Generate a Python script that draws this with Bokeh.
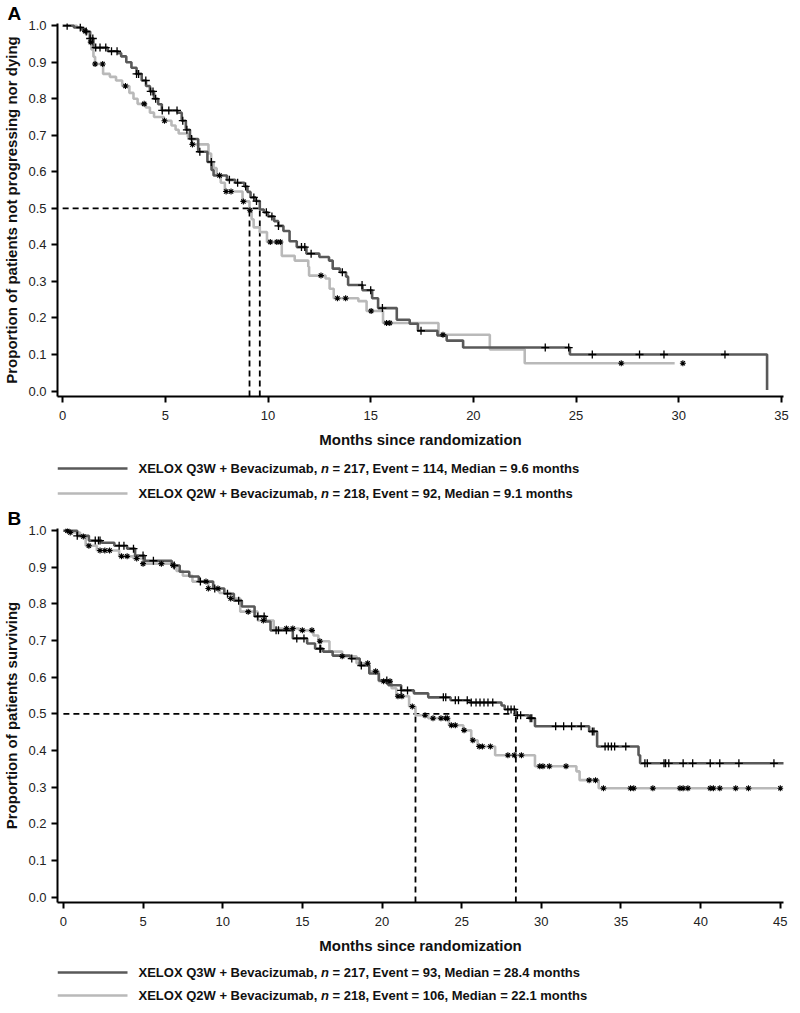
import numpy as np
from bokeh.plotting import figure
from bokeh.models import FixedTicker, NumeralTickFormatter
from bokeh.layouts import column
from bokeh.embed import file_html
from bokeh.resources import INLINE
from bokeh.core.properties import value

# ---------------- DATA ----------------
# Panel A: progression-free survival (months, proportion after step)
A_q3w_times = [0.55, 0.9, 1.1, 1.34, 1.5, 2.2, 2.7, 2.85, 3.1, 3.35, 3.6, 3.85, 4.06, 4.25, 4.45, 4.65,
               4.83, 5.6, 5.8, 6.0, 6.2, 6.6, 7.05, 7.25, 7.35, 8.0, 8.4, 8.85, 9.0, 9.15, 9.4, 9.6,
               9.8, 10.0, 10.3, 10.5, 10.75, 11.05, 11.4, 11.87, 12.5, 12.97, 13.15, 13.5, 13.8, 13.9,
               14.6, 15.07, 15.36, 16.27, 16.9, 17.3, 18.25, 18.7, 19.5, 24.7, 34.3]
A_q3w_surv = [0.995, 0.99, 0.984, 0.965, 0.94, 0.93, 0.925, 0.916, 0.90, 0.885, 0.868, 0.85, 0.835, 0.82, 0.80, 0.785,
              0.768, 0.762, 0.74, 0.715, 0.69, 0.655, 0.627, 0.605, 0.59, 0.578, 0.57, 0.56, 0.545, 0.53, 0.52, 0.497,
              0.489, 0.478, 0.465, 0.452, 0.438, 0.41, 0.394, 0.376, 0.367, 0.357, 0.335, 0.325, 0.313, 0.29,
              0.276, 0.254, 0.227, 0.195, 0.184, 0.165, 0.152, 0.138, 0.119, 0.10, 0.003]
A_q3w_end = 34.3
A_q3w_censor = [0.22, 0.86, 1.15, 1.34, 1.47, 1.61, 1.82, 2.1, 2.38, 2.65, 3.6, 3.7, 4.05, 4.29, 4.4, 4.53,
                4.85, 5.17, 5.57, 5.85, 6.05, 6.28, 6.68, 7.24, 8.12, 8.52, 8.91, 9.31, 9.44, 9.92, 10.19,
                10.51, 11.63, 11.79, 12.1, 13.62, 14.58, 15.0, 15.57, 17.45, 23.5, 24.64, 25.79, 28.09,
                29.28, 32.25]

A_q2w_times = [0.7, 1.0, 1.25, 1.3, 1.4, 1.5, 1.58, 1.97, 2.3, 2.6, 2.9, 3.25, 3.45, 3.65, 4.05, 4.25, 4.45,
               4.93, 5.3, 5.5, 5.65, 6.1, 6.3, 7.1, 7.23, 7.35, 7.5, 7.7, 7.9, 8.76, 9.1, 9.2, 9.3, 9.6,
               9.95, 10.67, 11.3, 11.96, 12.0, 12.8, 13.0, 13.2, 14.4, 14.8, 15.6, 18.3, 20.8, 22.5]
A_q2w_surv = [0.995, 0.985, 0.975, 0.955, 0.935, 0.915, 0.895, 0.868, 0.86, 0.85, 0.835, 0.816, 0.80, 0.786, 0.776, 0.762, 0.75,
              0.74, 0.727, 0.715, 0.705, 0.695, 0.675, 0.65, 0.627, 0.61, 0.59, 0.57, 0.546, 0.519, 0.495, 0.47, 0.448, 0.435,
              0.408, 0.37, 0.357, 0.34, 0.316, 0.308, 0.28, 0.254, 0.246, 0.219, 0.186, 0.154, 0.114, 0.076]
A_q2w_end = 29.8
A_q2w_censor = [1.1, 1.37, 1.58, 1.95, 3.06, 3.97, 4.96, 6.32, 7.64, 7.96, 8.2, 8.8, 9.12, 10.11, 10.43,
                10.6, 12.58, 13.38, 13.78, 15.02, 15.77, 15.93, 18.52, 27.2, 30.2]

A_medians = [9.6, 9.1]
A_arms = ["XELOX Q3W + Bevacizumab,", "XELOX Q2W + Bevacizumab,"]
A_stats = ["= 217, Event = 114, Median = 9.6 months", "= 218, Event = 92, Median = 9.1 months"]
A_xticks = [0, 5, 10, 15, 20, 25, 30, 35]

# Panel B: overall survival
B_q3w_times = [0.87, 1.6, 2.4, 3.2, 4.0, 4.5, 5.1, 6.8, 7.3, 7.9, 8.5, 9.4, 10.1, 10.7, 11.2, 12.0, 12.7,
               13.0, 14.4, 15.3, 15.8, 16.3, 16.9, 18.0, 18.6, 19.2, 19.8, 20.4, 21.2, 22.0, 22.9, 24.3,
               25.5, 27.5, 27.7, 28.4, 29.2, 29.6, 33.0, 33.5, 36.1, 36.2]
B_q3w_surv = [0.986, 0.973, 0.967, 0.959, 0.951, 0.932, 0.918, 0.905, 0.888, 0.875, 0.861, 0.842, 0.828, 0.809, 0.793, 0.766, 0.752,
              0.728, 0.706, 0.692, 0.678, 0.670, 0.659, 0.651, 0.632, 0.610, 0.591, 0.578, 0.564, 0.556, 0.545, 0.537,
              0.531, 0.523, 0.512, 0.496, 0.488, 0.466, 0.452, 0.411, 0.387, 0.365]
B_q3w_end = 45.5
B_q3w_censor = [0.87, 2.0, 2.2, 2.3, 3.5, 3.8, 4.4, 5.0, 5.65, 6.96, 8.6, 9.5, 10.3, 11.0, 12.2, 12.6, 13.35,
                13.5, 14.0, 14.65, 15.1, 16.1, 16.15, 18.1, 18.7, 20.3, 21.2, 21.6, 23.85, 24.0, 24.6, 24.8,
                25.35, 25.6, 25.9, 26.15, 26.4, 26.65, 26.95, 27.9, 28.1, 28.3, 28.5, 28.7, 29.3, 29.4, 30.9,
                31.4, 31.9, 32.5, 33.2, 33.3, 34.0, 34.2, 34.4, 34.6, 35.3, 36.5, 36.65, 37.7, 37.8, 38.0,
                38.9, 39.5, 40.6, 41.2, 42.4, 44.6, 45.65]

B_q2w_times = [0.4, 1.05, 1.4, 2.1, 3.5, 4.4, 5.0, 6.8, 7.1, 7.5, 8.1, 9.1, 9.8, 10.5, 11.1, 12.2, 13.2, 14.8,
               15.7, 16.0, 16.7, 17.5, 18.4, 19.2, 19.8, 20.6, 20.9, 21.7, 22.1, 22.9, 24.2, 25.1, 25.6,
               26.0, 27.1, 29.6, 32.2, 32.4, 33.6]
B_q2w_surv = [0.995, 0.984, 0.959, 0.946, 0.93, 0.924, 0.910, 0.905, 0.89, 0.877, 0.861, 0.842, 0.83, 0.815, 0.779, 0.755, 0.733, 0.728,
              0.714, 0.698, 0.670, 0.657, 0.638, 0.616, 0.589, 0.570, 0.548, 0.520, 0.496, 0.488, 0.469, 0.455, 0.428,
              0.411, 0.387, 0.357, 0.343, 0.319, 0.297]
B_q2w_end = 44.8
B_q2w_censor = [0.25, 0.43, 1.25, 1.6, 2.3, 2.6, 2.9, 3.65, 4.0, 4.6, 5.0, 6.15, 6.9, 8.95, 9.1, 9.7, 10.5,
                11.6, 12.55, 14.0, 14.4, 15.0, 15.6, 16.1, 17.5, 19.1, 19.6, 20.1, 20.5, 21.0, 21.25, 21.9,
                22.7, 23.2, 23.7, 24.0, 24.1, 24.35, 24.6, 25.15, 25.7, 26.1, 26.3, 26.8, 27.9, 28.3, 28.75,
                29.9, 30.1, 30.5, 31.55, 33.0, 33.4, 33.9, 35.6, 35.8, 37.0, 38.7, 38.9, 39.2, 40.6, 40.8,
                41.2, 42.2, 43.0, 45.0]

B_medians = [28.4, 22.1]
B_arms = ["XELOX Q3W + Bevacizumab,", "XELOX Q2W + Bevacizumab,"]
B_stats = ["= 217, Event = 93, Median = 28.4 months", "= 218, Event = 106, Median = 22.1 months"]
B_xticks = [0, 5, 10, 15, 20, 25, 30, 35, 40, 45]

y_ticks = [0.0, 0.1, 0.2, 0.3, 0.4, 0.5, 0.6, 0.7, 0.8, 0.9, 1.0]

# ---------------- STYLE ----------------
DARK = "#595959"
LIGHT = "#b9b9b9"
FONT = "Liberation Sans"
LEG_SIZE = 13
FRAME_W = 726
# Liberation Sans Bold advance widths (per 1000 em), used to place the italic "n"
BOLD_W = {"X": 667, "E": 667, "L": 611, "O": 778, " ": 278, "Q": 778, "2": 556, "3": 556, "W": 944,
          "+": 584, "B": 722, "e": 556, "v": 556, "a": 556, "c": 556, "i": 278, "z": 500, "u": 611,
          "m": 889, "b": 611, ",": 278, "n": 611}


def text_w(s, size):
    return sum(BOLD_W.get(c, 556) for c in s) * size / 1000.0


def step_xy(times, surv, end):
    xs = [0.0] + list(times)
    ys = [1.0] + list(surv)
    if end > xs[-1]:
        xs.append(end)
        ys.append(ys[-1])
    return xs, ys


def surv_at(times, surv, t):
    t = np.asarray(t)
    idx = np.searchsorted(np.asarray(times), t, side="right") - 1
    s = np.asarray(surv)
    return np.where(idx >= 0, s[np.clip(idx, 0, None)], 1.0)


def panel(letter, ylabel, xr, yr, xticks, q3w, q2w, medians, frame_h, top):
    p = figure(frame_width=FRAME_W, frame_height=frame_h, x_range=xr, y_range=yr,
               output_backend="svg", toolbar_location=None,
               min_border_left=51, min_border_right=7, min_border_top=top, min_border_bottom=0)
    p.outline_line_color = None
    p.grid.visible = False

    # panel letter as a left-shifted title
    p.title.text = letter
    p.title.text_font = FONT
    p.title.text_font_size = "19px"
    p.title.text_font_style = "bold"
    p.title.text_color = "black"
    p.title.align = "left"
    p.title.offset = -50
    p.title.standoff = 0

    for ax in (p.xaxis, p.yaxis):
        ax.axis_line_width = 2
        ax.axis_line_color = "black"
        ax.major_tick_line_width = 2
        ax.major_tick_line_color = "black"
        ax.major_tick_out = 6
        ax.major_tick_in = 0
        ax.minor_tick_out = 0
        ax.minor_tick_in = 0
        ax.major_label_text_font = FONT
        ax.major_label_text_font_size = "13px"
        ax.major_label_text_color = "#222222"
        ax.axis_label_text_font = FONT
        ax.axis_label_text_font_size = "15px"
        ax.axis_label_text_font_style = "bold"
        ax.axis_label_text_color = "#111111"
    p.xaxis.ticker = FixedTicker(ticks=xticks)
    p.yaxis.ticker = FixedTicker(ticks=y_ticks)
    p.yaxis.formatter = NumeralTickFormatter(format="0.0")
    p.xaxis.axis_label = "Months since randomization"
    p.yaxis.axis_label = ylabel
    p.xaxis.major_label_standoff = 8
    p.xaxis.axis_label_standoff = 8
    p.yaxis.major_label_standoff = 5
    p.yaxis.axis_label_standoff = 5

    # median reference lines
    p.line([0, max(medians)], [0.5, 0.5], line_color="black", line_width=1.8, line_dash="6 4")
    p.segment(x0=medians, y0=[yr[0]] * len(medians), x1=medians, y1=[0.5] * len(medians),
              line_color="black", line_width=1.8, line_dash="6 4")

    for (times, surv, end, cens), color in ((q2w, LIGHT), (q3w, DARK)):
        xs, ys = step_xy(times, surv, end)
        p.step(xs, ys, mode="after", line_color=color, line_width=2.6)
    for (times, surv, end, cens), marker, msize, lw in ((q2w, "asterisk", 6, 1.1), (q3w, "cross", 8, 1.3)):
        cy = surv_at(times, surv, cens)
        p.scatter(cens, cy, marker=marker, size=msize, line_color="black", line_width=lw)
    return p


def legend_fig(arms, stats, height, row_y):
    # axis-free strip whose frame lines up with the panel frame; x and y are in pixels
    f = figure(frame_width=FRAME_W, frame_height=height, x_range=(0, FRAME_W), y_range=(0, height),
               output_backend="svg", toolbar_location=None,
               min_border_left=51, min_border_right=7, min_border_top=0, min_border_bottom=0,
               x_axis_location=None, y_axis_location=None)
    f.outline_line_color = None
    f.grid.visible = False
    f.segment(x0=[0, 0], y0=row_y, x1=[70, 70], y1=row_y,
              line_color=[DARK, LIGHT], line_width=2.6)
    text_x = 81
    common = dict(text_font=value(FONT), text_font_size=f"{LEG_SIZE}px", text_baseline="middle",
                  text_align="left", text_color="#111111")
    x_n = [text_x + text_w(a + " ", LEG_SIZE) for a in arms]
    x_rest = [x + text_w("n ", LEG_SIZE) for x in x_n]
    f.text(x=[text_x] * 2, y=row_y, text=arms, text_font_style="bold", **common)
    f.text(x=x_n, y=row_y, text=["n", "n"], text_font_style="bold italic", **common)
    f.text(x=x_rest, y=row_y, text=stats, text_font_style="bold", **common)
    return f


pA = panel("A", "Proportion of patients not progressing nor dying", (-0.25, 35.1), (-0.015, 1.006), A_xticks,
           (A_q3w_times, A_q3w_surv, A_q3w_end, A_q3w_censor),
           (A_q2w_times, A_q2w_surv, A_q2w_end, A_q2w_censor),
           A_medians, frame_h=373, top=0)
lA = legend_fig(A_arms, A_stats, 52, [34, 9])
pB = panel("B", "Proportion of patients surviving", (-0.37, 45.2), (-0.015, 1.006), B_xticks,
           (B_q3w_times, B_q3w_surv, B_q3w_end, B_q3w_censor),
           (B_q2w_times, B_q2w_surv, B_q2w_end, B_q2w_censor),
           B_medians, frame_h=374, top=26)
lB = legend_fig(B_arms, B_stats, 46, [30, 7])

layout = column(pA, lA, pB, lB, spacing=0)
open("out.html", "w").write(file_html(layout, INLINE))
